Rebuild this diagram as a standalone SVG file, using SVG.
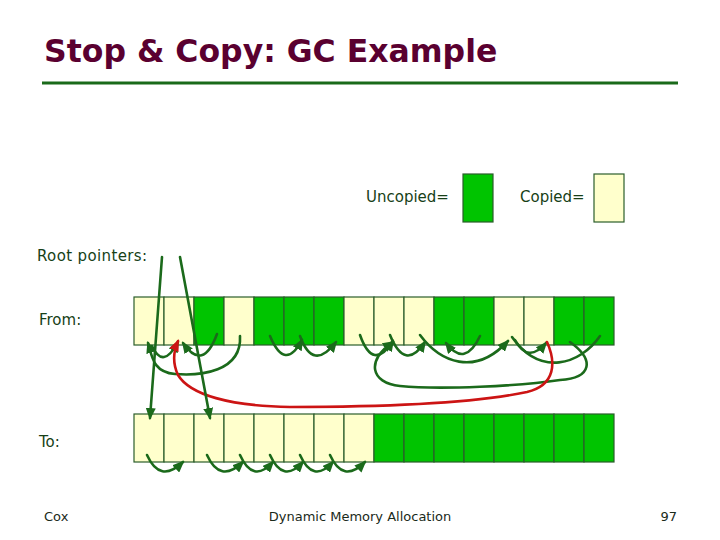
<svg xmlns="http://www.w3.org/2000/svg" width="720" height="540" viewBox="0 0 720 540">
<style>
.t{font-family:"DejaVu Sans",Verdana,sans-serif;fill:#173f17;font-size:15px}
.f{font-family:"DejaVu Sans",Verdana,sans-serif;fill:#1a2a1a;font-size:13px}
.u{fill:#00c400;stroke:#2b5e2b;stroke-width:1.2}
.c{fill:#ffffcc;stroke:#2b5e2b;stroke-width:1.2}
.g{fill:none;stroke:#1b6a1b;stroke-width:2.6;stroke-linecap:round}
.r{fill:none;stroke:#cc1414;stroke-width:2.6;stroke-linecap:round}
</style>
<defs>
<marker id="ag" markerUnits="userSpaceOnUse" markerWidth="12" markerHeight="10" refX="10" refY="5" orient="auto"><path d="M0,0 L12,5 L0,10 z" fill="#1b6a1b"/></marker>
<marker id="ar" markerUnits="userSpaceOnUse" markerWidth="12" markerHeight="10" refX="10" refY="5" orient="auto"><path d="M0,0 L12,5 L0,10 z" fill="#cc1414"/></marker>
</defs>
<rect width="720" height="540" fill="#ffffff"/>
<g id="title">
<text x="44" y="62" font-family="'DejaVu Sans',Verdana,sans-serif" font-weight="bold" font-size="31.5" fill="#5a0030">Stop &amp; Copy: GC Example</text>
<line x1="42" y1="83" x2="678" y2="83" stroke="#1a6a1a" stroke-width="3"/>
</g>
<g id="legend">
<text class="t" x="366" y="202">Uncopied=</text>
<rect class="u" x="463" y="174" width="30" height="48"/>
<text class="t" x="520" y="202">Copied=</text>
<rect class="c" x="594" y="174" width="30" height="48"/>
</g>
<g id="labels">
<text class="t" x="37" y="261" textLength="110">Root pointers:</text>
<text class="t" x="39" y="325">From:</text>
<text class="t" x="39" y="447">To:</text>
</g>
<g id="from">
<rect class="c" x="134" y="297" width="30" height="48"/>
<rect class="c" x="164" y="297" width="30" height="48"/>
<rect class="u" x="194" y="297" width="30" height="48"/>
<rect class="c" x="224" y="297" width="30" height="48"/>
<rect class="u" x="254" y="297" width="30" height="48"/>
<rect class="u" x="284" y="297" width="30" height="48"/>
<rect class="u" x="314" y="297" width="30" height="48"/>
<rect class="c" x="344" y="297" width="30" height="48"/>
<rect class="c" x="374" y="297" width="30" height="48"/>
<rect class="c" x="404" y="297" width="30" height="48"/>
<rect class="u" x="434" y="297" width="30" height="48"/>
<rect class="u" x="464" y="297" width="30" height="48"/>
<rect class="c" x="494" y="297" width="30" height="48"/>
<rect class="c" x="524" y="297" width="30" height="48"/>
<rect class="u" x="554" y="297" width="30" height="48"/>
<rect class="u" x="584" y="297" width="30" height="48"/>
</g>
<g id="to">
<rect class="c" x="134" y="414" width="30" height="48"/>
<rect class="c" x="164" y="414" width="30" height="48"/>
<rect class="c" x="194" y="414" width="30" height="48"/>
<rect class="c" x="224" y="414" width="30" height="48"/>
<rect class="c" x="254" y="414" width="30" height="48"/>
<rect class="c" x="284" y="414" width="30" height="48"/>
<rect class="c" x="314" y="414" width="30" height="48"/>
<rect class="c" x="344" y="414" width="30" height="48"/>
<rect class="u" x="374" y="414" width="30" height="48"/>
<rect class="u" x="404" y="414" width="30" height="48"/>
<rect class="u" x="434" y="414" width="30" height="48"/>
<rect class="u" x="464" y="414" width="30" height="48"/>
<rect class="u" x="494" y="414" width="30" height="48"/>
<rect class="u" x="524" y="414" width="30" height="48"/>
<rect class="u" x="554" y="414" width="30" height="48"/>
<rect class="u" x="584" y="414" width="30" height="48"/>
</g>
<g id="connectors">
<path class="g" d="M152,346 Q163,370 178,342" marker-end="url(#ag)"/>
<path class="g" d="M217,334 Q203,372 183,343" marker-end="url(#ag)"/>
<path class="g" d="M240,336 C242,372 200,376 175,374 C152,372 152,355 148,343" marker-end="url(#ag)"/>
<path class="g" d="M270,336 Q285,372 302,340" marker-end="url(#ag)"/>
<path class="g" d="M300,336 Q313,372 336,342" marker-end="url(#ag)"/>
<path class="g" d="M360,335 Q373,372 393,341" marker-end="url(#ag)"/>
<path class="g" d="M390,335 Q405,372 425,342" marker-end="url(#ag)"/>
<path class="g" d="M420,335 C440,362 475,377 508,341" marker-end="url(#ag)"/>
<path class="g" d="M480,336 Q465,368 446,343" marker-end="url(#ag)"/>
<path class="g" d="M600,336 C580,365 540,377 512,337"/>
<path class="g" d="M515,340 Q528,364 546,343" marker-end="url(#ag)"/>
<path class="g" d="M570,342 C595,360 592,378 560,380 C520,386 440,390 400,386 C370,383 366,360 393,342" marker-end="url(#ag)"/>
<path class="r" d="M547,342 C556,362 556,385 527,392 C480,402 400,407 290,407 C230,406 190,395 178,375 C172,362 174,350 178,341" marker-end="url(#ar)"/>
<path class="g" d="M162,257 L150,418" marker-end="url(#ag)"/>
<path class="g" d="M180,257 L210,418" marker-end="url(#ag)"/>
<path class="g" d="M147,455 Q160,484 183,462" marker-end="url(#ag)"/>
<path class="g" d="M207,455 Q220,484 243,462" marker-end="url(#ag)"/>
<path class="g" d="M240,455 Q253,484 273,462" marker-end="url(#ag)"/>
<path class="g" d="M270,455 Q283,484 303,462" marker-end="url(#ag)"/>
<path class="g" d="M300,455 Q313,484 333,462" marker-end="url(#ag)"/>
<path class="g" d="M330,455 Q343,484 365,462" marker-end="url(#ag)"/>
</g>
<g id="footer">
<text class="f" x="44" y="521">Cox</text>
<text class="f" x="360" y="521" text-anchor="middle">Dynamic Memory Allocation</text>
<text class="f" x="677" y="521" text-anchor="end">97</text>
</g>
</svg>
